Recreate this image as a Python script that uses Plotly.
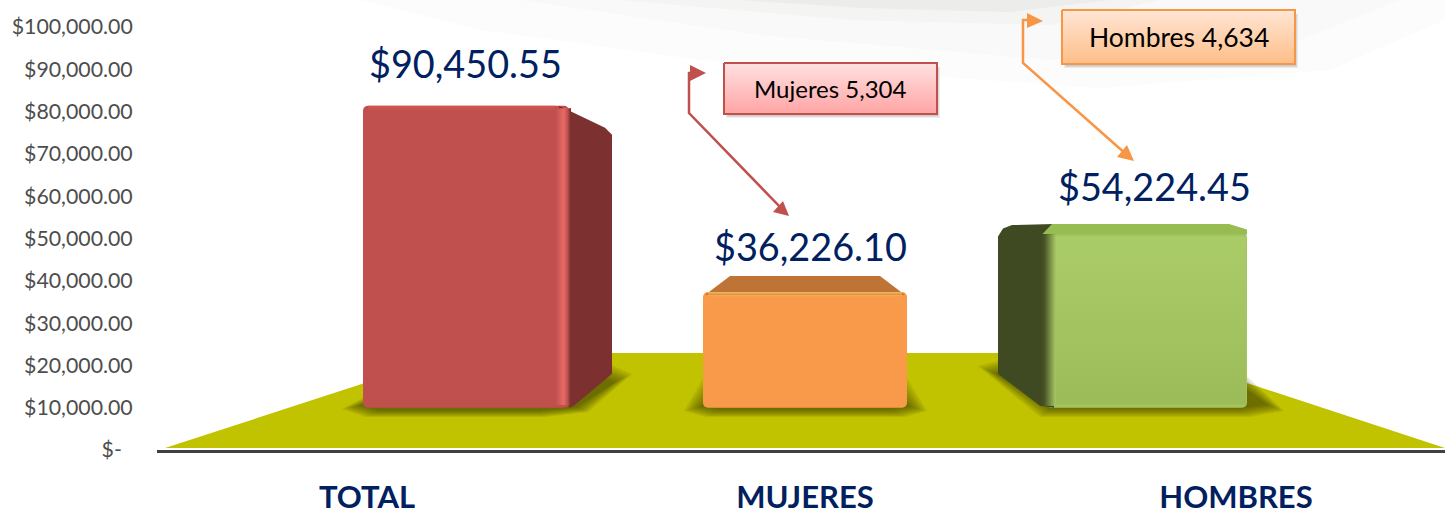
import plotly.graph_objects as go

# ---- data ----
categories = ["TOTAL", "MUJERES", "HOMBRES"]
value_labels = [90450.55, 36226.10, 54224.45]
drawn_tops = [81400, 37350, 51400]        # front-face top as read on the axis
floor_level = 10000
y_ticks = [0, 10000, 20000, 30000, 40000, 50000, 60000, 70000, 80000, 90000, 100000]
callouts = ["Mujeres 5,304", "Hombres 4,634"]

# ---- layout geometry ----
W, H = 1445, 510
X0, AXIS_PY = 157, 450
PX_PER_UNIT = 423 / 100000
YTOP = AXIS_PY * (1 / PX_PER_UNIT)


def Y(py):
    return (AXIS_PY - py) / PX_PER_UNIT


bar_left = [363, 703, 1046]
bar_right = [569, 907, 1247]
label_x = [465, 810, 1154]
label_py = [63, 246, 186]
cat_x = [367, 805, 1236]
front_colors = ["#C0504D", "#F99A4A", "#A4C462"]

fig = go.Figure()
shapes = []


def poly(points, color, layer="below"):
    path = "M" + " L".join(f"{x},{Y(y)}" for x, y in points) + " Z"
    shapes.append(dict(type="path", path=path, xref="x", yref="y", fillcolor=color,
                       line=dict(width=0), layer=layer))


def flat_poly(points, color):
    xs = [p[0] for p in points] + [points[0][0]]
    ys = [Y(p[1]) for p in points] + [Y(points[0][1])]
    fig.add_trace(go.Scatter(x=xs, y=ys, mode="lines", fill="toself", fillcolor=color,
                             line=dict(width=0), hoverinfo="skip", showlegend=False))


def strips(l, r, t, b, stops):
    """Left-to-right shading painted as narrow solid strips; stops are (pos, (r, g, b))."""
    n = int(r - l)
    for i in range(n):
        pos = i / max(n - 1, 1)
        for (p0, c0), (p1, c1) in zip(stops, stops[1:]):
            if p0 <= pos <= p1:
                u = (pos - p0) / (p1 - p0)
                c = tuple(round(a + (d - a) * u) for a, d in zip(c0, c1))
                break
        xa = l + i
        flat_poly([(xa, t), (r, t), (r, b), (xa, b)], f"rgb{c}")


def vgrad(l, r, t, b, stops, line=None):
    fig.add_trace(go.Scatter(x=[l, r, r, l, l], y=[Y(t), Y(t), Y(b), Y(b), Y(t)], mode="lines", fill="toself",
                             line=line or dict(width=0), hoverinfo="skip", showlegend=False,
                             fillgradient=dict(type="vertical", colorscale=stops)))


# pale background swoosh (very faint)
poly([(360, 0), (1445, 0), (1445, 20), (1330, 70), (1100, 88), (700, 60), (480, 30)], "rgba(120,130,110,0.025)")
poly([(520, 0), (1400, 0), (1300, 40), (1050, 60), (760, 35)], "rgba(120,130,110,0.025)")
poly([(620, 0), (1160, 0), (1050, 25), (850, 20)], "rgba(120,130,110,0.04)")
poly([(740, 0), (1110, 0), (1010, 12), (860, 8)], "rgba(120,130,110,0.06)")

# floor
poly([(165, 448), (457, 353), (1156, 353), (1445, 448)], "#C1C200")

# soft shadows on the floor
shadow_polys = [
    [(342, 409), (363, 398), (600, 360), (632, 374), (588, 412), (545, 417), (365, 417)],
    [(684, 411), (703, 378), (907, 378), (927, 411), (905, 417), (705, 417)],
    [(978, 366), (1010, 358), (1247, 376), (1284, 411), (1250, 417), (1040, 417)],
]
for pts in shadow_polys:
    cx = sum(p[0] for p in pts) / len(pts)
    cy = sum(p[1] for p in pts) / len(pts)
    w = max(p[0] for p in pts) - min(p[0] for p in pts)
    h = max(p[1] for p in pts) - min(p[1] for p in pts)
    for k in range(9):
        fx = 1 - k * 2.2 / (w / 2)
        fy = 1 - k * 1.2 / (h / 2)
        poly([(cx + (x - cx) * fx, cy + (y - cy) * fy) for x, y in pts], "rgba(40,40,0,0.08)")

# --- side and top faces, computed from the values ---
top_py = [AXIS_PY - v * PX_PER_UNIT for v in drawn_tops]
floor_py = AXIS_PY - floor_level * PX_PER_UNIT

# red: right side face
flat_poly([(bar_right[0] - 10, top_py[0]), (bar_right[0] + 36, top_py[0] + 22), (bar_right[0] + 43, top_py[0] + 29),
           (bar_right[0] + 43, floor_py - 34), (bar_right[0] + 5, floor_py - 2), (bar_right[0], floor_py)], "#7C3130")
# orange: top face
flat_poly([(bar_left[1] + 2, top_py[1] + 3), (bar_left[1] + 27, top_py[1] - 16), (bar_right[1] - 27, top_py[1] - 16),
           (bar_right[1] - 2, top_py[1] + 3)], "#BD7434")
# green: left side face and top face
flat_poly([(bar_left[2] + 8, top_py[2] - 8.5), (bar_left[2] - 34, top_py[2] - 7.5), (bar_left[2] - 43, top_py[2] - 4),
           (bar_left[2] - 48, top_py[2] + 4), (bar_left[2] - 48, floor_py - 34), (bar_left[2] - 6, floor_py - 2),
           (bar_left[2] + 8, floor_py)], "#3F4A22")
flat_poly([(bar_left[2] - 4, top_py[2] + 2), (bar_left[2] + 6, top_py[2] - 8.5), (bar_right[2] - 18, top_py[2] - 8.5),
           (bar_right[2], top_py[2] - 3), (bar_right[2], top_py[2] + 2)], "#96BC52")

# front faces: the bars themselves
fig.add_trace(go.Bar(
    x=[(a + b) / 2 for a, b in zip(bar_left, bar_right)],
    y=[v - floor_level for v in drawn_tops],
    base=[floor_level] * 3,
    width=[b - a for a, b in zip(bar_left, bar_right)],
    marker=dict(color=front_colors, line=dict(width=0)),
    hoverinfo="skip", showlegend=False,
))

# bevel highlights
strips(bar_right[0] - 14, bar_right[0] + 2, top_py[0] + 3, floor_py - 3,
       [(0, (192, 80, 77)), (0.55, (232, 106, 104)), (0.8, (190, 80, 78)), (1, (124, 49, 48))])
vgrad(bar_left[0] + 5, bar_right[0] - 14, top_py[0], top_py[0] + 6,
      [[0, "rgba(216,84,84,0)"], [1, "rgba(216,84,84,0.9)"]])
vgrad(bar_left[1] + 5, bar_right[1] - 5, top_py[1], top_py[1] + 5,
      [[0, "rgba(255,190,100,0)"], [1, "rgba(255,190,100,0.9)"]])
vgrad(bar_left[2] + 8, bar_right[2] - 1, top_py[2] + 4, floor_py - 3,
      [[0, "rgba(155,187,89,0.9)"], [1, "rgba(171,205,104,0.9)"]])
strips(bar_left[2] - 6, bar_left[2] + 10, top_py[2] + 2, floor_py - 2,
       [(0, (63, 74, 34)), (0.25, (70, 82, 38)), (1, (164, 196, 98))])

# callouts
callout_boxes = [(724, 63, 937, 114), (1062, 10, 1295, 64)]
callout_grad = [
    [[0, "#FFA4A4"], [1, "#FFE1E1"]],
    [[0, "#FEBE88"], [1, "#FFE6D5"]],
]
callout_line = ["#C0504D", "#F79646"]
callout_size = [24, 26.5]
for (l, t, r, b), g, c in zip(callout_boxes, callout_grad, callout_line):
    for k in range(3):
        poly([(l + 2 + k, t + 4), (r + 3 - k, t + 4), (r + 3 - k, b + 4 - k), (l + 2 + k, b + 4 - k)], "rgba(0,0,0,0.07)")
    vgrad(l, r, t, b, g, line=dict(color=c, width=2))

arrow_paths = [
    ([(695, 73), (689, 73), (689, 113), (783, 210)], (706, 73), (690, 65), (690, 81), (789, 216), (773, 212), (783, 201), "#C0504D"),
    ([(1030, 20), (1023, 20), (1023, 63), (1127, 155)], (1043, 21), (1027, 13), (1027, 28), (1134, 161), (1117, 157), (1127, 145), "#F79646"),
]
for line_pts, a, b, c, d, e, f, col in arrow_paths:
    fig.add_trace(go.Scatter(x=[p[0] for p in line_pts], y=[Y(p[1]) for p in line_pts], mode="lines",
                             line=dict(color=col, width=2.5), hoverinfo="skip", showlegend=False))
    flat_poly([a, b, c], col)
    flat_poly([d, e, f], col)

annotations = []
for x, py, v in zip(label_x, label_py, value_labels):
    annotations.append(dict(x=x, y=Y(py), xref="x", yref="y", text=f"${v:,.2f}", showarrow=False,
                            font=dict(family="Lato", size=37.8, color="#002060"), xanchor="center", yanchor="middle"))
for (l, t, r, b), text, s in zip(callout_boxes, callouts, callout_size):
    annotations.append(dict(x=(l + r) / 2, y=Y((t + b) / 2), xref="x", yref="y", text=text, showarrow=False,
                            font=dict(family="Lato", size=s, color="#000000"), xanchor="center", yanchor="middle"))

tick_text = ["$-\u00a0\u00a0"] + [f"${v:,.2f}" for v in y_ticks[1:]]

fig.update_layout(
    width=W, height=H,
    autosize=False,
    margin=dict(l=X0, r=0, t=0, b=H - AXIS_PY, pad=0),
    paper_bgcolor="#FFFFFF", plot_bgcolor="rgba(0,0,0,0)",
    showlegend=False,
    barcornerradius=5,
    shapes=shapes,
    annotations=annotations,
    xaxis=dict(range=[X0, W], tickmode="array", tickvals=cat_x, ticktext=categories, automargin=False,
               tickfont=dict(family="Lato", size=31, color="#002060", weight="bold"),
               ticks="outside", ticklen=18, tickcolor="rgba(0,0,0,0)", showgrid=False, zeroline=False,
               showline=True, linecolor="#404040", linewidth=3),
    yaxis=dict(range=[0, YTOP], tickmode="array", tickvals=y_ticks, ticktext=tick_text, automargin=False,
               tickfont=dict(family="Lato", size=21.3, color="#4D4D4D"),
               ticks="outside", ticklen=19, tickcolor="rgba(0,0,0,0)", showgrid=False, zeroline=False,
               showline=False),
)

fig.write_html("out.html", config=dict(displayModeBar=False),
               post_script="document.body.style.margin='0';document.body.style.overflow='hidden';")
